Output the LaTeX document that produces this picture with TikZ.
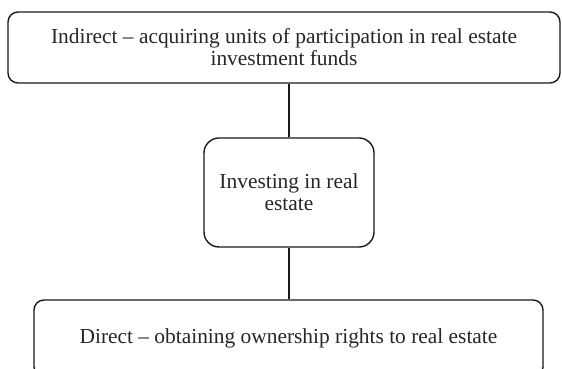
\documentclass[tikz,border=0pt]{standalone}
\usepackage{fontspec}
\setmainfont{Liberation Serif}
\usepackage{tikz}

\begin{document}
\begin{tikzpicture}[x=1pt, y=1pt,
        box/.style={draw=black!90, line width=1.4pt, rounded corners=10pt, align=center,
                    inner sep=0pt, text=black!85, font=\fontsize{21.4}{22}\selectfont}]
        \clip (0, 0) rectangle (562, 369);
        \useasboundingbox (0, 0) rectangle (562, 369);

        \node[box, minimum width=552, minimum height=71] (indirect) at (284, 321.5)
            {Indirect -- acquiring units of participation in real estate\\investment funds};
        \node[box, minimum width=170, minimum height=109, rounded corners=15pt] (invest) at (289, 176.5)
            {Investing in real\\estate};
        \node[box, minimum width=509, minimum height=77] (direct) at (288.5, 30.5)
            {Direct -- obtaining ownership rights to real estate};

        \draw[line width=1.4pt, black!90] (invest.north) -- (invest.north |- indirect.south)
              (invest.south) -- (invest.south |- direct.north);
    \end{tikzpicture}
\end{document}
